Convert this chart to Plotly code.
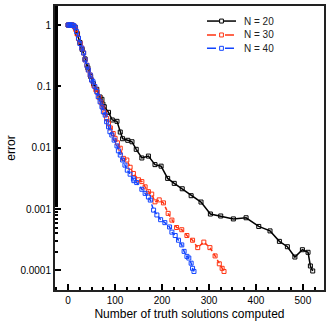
import plotly.graph_objects as go

# N = 20 (black, solid)
n20_x = [0, 8, 15, 20, 25, 30, 36, 42, 48, 54, 61, 68, 72, 74, 77, 86, 94, 104, 111, 116,
         127, 136, 145, 157, 171, 185, 198, 212, 226, 243, 262, 283, 303, 325, 352, 379,
         406, 430, 450, 467, 483, 499, 511, 516, 521]
n20_y = [1.0, 1.0, 0.92, 0.72, 0.52, 0.40, 0.28, 0.20, 0.145, 0.11, 0.0895, 0.067, 0.0615,
         0.0515, 0.0466, 0.0377, 0.0283, 0.0269, 0.018, 0.014, 0.0132, 0.0125, 0.0094,
         0.0068, 0.0073, 0.0053, 0.0050, 0.00316, 0.00262, 0.00214, 0.00165, 0.0013,
         0.00083, 0.00077, 0.00069, 0.00072, 0.00052, 0.00044, 0.000297, 0.000243,
         0.000165, 0.000217, 0.000197, 0.000118, 0.0000977]

# N = 30 (red, dashed)
n30_x = [0, 3, 6, 9, 13, 16, 19, 22, 26, 29, 33, 36, 40, 43, 47, 50, 55, 59, 62, 66, 70,
         74, 78, 82, 86, 90, 96, 100, 105, 111, 118, 125, 132, 139, 150, 157, 164, 171,
         178, 185, 194, 203, 213, 221, 231, 242, 253, 265, 276, 289, 302, 313, 322, 328, 332]
n30_y = [1.0, 1.0, 1.0, 1.0, 0.95, 0.85, 0.72, 0.60, 0.50, 0.42, 0.35, 0.27, 0.22, 0.185,
         0.153, 0.127, 0.102, 0.088, 0.08, 0.066, 0.055, 0.045, 0.037, 0.030, 0.025, 0.021,
         0.017, 0.0142, 0.012, 0.0098, 0.0067, 0.0063, 0.0048, 0.0038, 0.0030, 0.0028,
         0.0023, 0.00192, 0.00175, 0.00131, 0.00141, 0.00126, 0.00085, 0.00066, 0.00050,
         0.00046, 0.00037, 0.00031, 0.000235, 0.000289, 0.000235, 0.000172, 0.000128,
         0.000108, 0.000096]

# N = 40 (blue, dashed)
n40_x = [0, 2, 4, 6, 9, 12, 15, 18, 22, 25, 29, 33, 36, 40, 43, 47, 50, 53, 57, 61, 64,
         68, 72, 75, 79, 82, 86, 89, 93, 98, 104, 107, 111, 116, 121, 126, 132, 139, 140,
         146, 157, 164, 171, 175, 182, 189, 197, 206, 216, 221, 228, 235, 242, 247, 253,
         257, 262, 265, 268]
n40_y = [1.0, 1.0, 1.0, 1.0, 1.0, 0.98, 0.92, 0.78, 0.61, 0.50, 0.42, 0.35, 0.27, 0.22,
         0.185, 0.153, 0.127, 0.119, 0.099, 0.082, 0.068, 0.056, 0.0465, 0.0385, 0.034,
         0.0265, 0.0219, 0.0182, 0.0161, 0.0133, 0.0107, 0.0089, 0.0076, 0.0063, 0.0052,
         0.0043, 0.0037, 0.0031, 0.0029, 0.0027, 0.0021, 0.0018, 0.00157, 0.0014, 0.00096,
         0.0008, 0.00067, 0.0006, 0.00051, 0.00042, 0.00037, 0.00031, 0.00026, 0.000204,
         0.000169, 0.000159, 0.000131, 0.000108, 0.000096]

series_names = ['N = 20', 'N = 30', 'N = 40']
series_colors = ['black', '#ff3311', '#1144ff']
series_dash = ['solid', '4px,3px', '4px,3px']

y_tick_vals = [1, 0.1, 0.01, 0.001, 0.0001]
y_tick_text = ['1', '0.1', '0.01', '0.001', '0.0001']

FONT = 'Liberation Sans, Arial, sans-serif'

fig = go.Figure()
for x, y, name, color, dash in zip([n20_x, n30_x, n40_x], [n20_y, n30_y, n40_y],
                                   series_names, series_colors, series_dash):
    fig.add_trace(go.Scatter(
        x=x, y=y, name=name, mode='lines+markers', showlegend=False,
        line=dict(color=color, width=1.5, dash=dash),
        marker=dict(symbol='square-open', size=4, color=color, line=dict(width=1)),
    ))

# plotly's legend rows are too tall here, so draw a compact legend by hand
legend_rows = [0.947, 0.898, 0.851]
for row_y, name, color, dash in zip(legend_rows, series_names, series_colors, series_dash):
    fig.add_shape(type='line', xref='paper', yref='paper',
                  x0=0.565, x1=0.673, y0=row_y, y1=row_y,
                  line=dict(color=color, width=1.5, dash='solid' if dash == 'solid' else 'dash'))
    fig.add_shape(type='rect', xref='paper', yref='paper',
                  x0=0.612, x1=0.626, y0=row_y - 0.007, y1=row_y + 0.007,
                  line=dict(color=color, width=1), fillcolor='white')
    fig.add_annotation(text=name, xref='paper', yref='paper', x=0.695, y=row_y,
                       xanchor='left', yanchor='middle', showarrow=False,
                       font=dict(size=10, color='#222'))

fig.update_layout(
    width=332, height=332,
    margin=dict(l=55, r=8, t=6, b=42),
    plot_bgcolor='white', paper_bgcolor='white',
    font=dict(family=FONT, size=10, color='black'),
    xaxis=dict(
        range=[-28, 545], showgrid=False, zeroline=False, automargin=False,
        showline=True, linecolor='#222', linewidth=2, mirror=True,
        ticks='inside', ticklen=6, tickwidth=1.5, tickcolor='black',
        dtick=100, tick0=0,
        minor=dict(ticks='inside', ticklen=3, dtick=25, tickcolor='black', showgrid=False),
        title=dict(text='Number of truth solutions computed', font=dict(size=12), standoff=5),
    ),
    yaxis=dict(
        type='log', range=[-4.32, 0.31], showgrid=False, zeroline=False, automargin=False,
        showline=True, linecolor='#222', linewidth=2, mirror=True,
        ticks='inside', ticklen=6, tickwidth=1.5, tickcolor='black',
        tickvals=y_tick_vals, ticktext=y_tick_text,
        minor=dict(ticks='inside', ticklen=3, tickcolor='black', showgrid=False),
        title=dict(text='error', font=dict(size=12), standoff=2),
    ),
)

# the page body has a default 8px margin; drop it so the figure sits at the corner
fig.write_html('out.html', config={'displayModeBar': False},
               post_script="document.body.style.margin = '0';")
